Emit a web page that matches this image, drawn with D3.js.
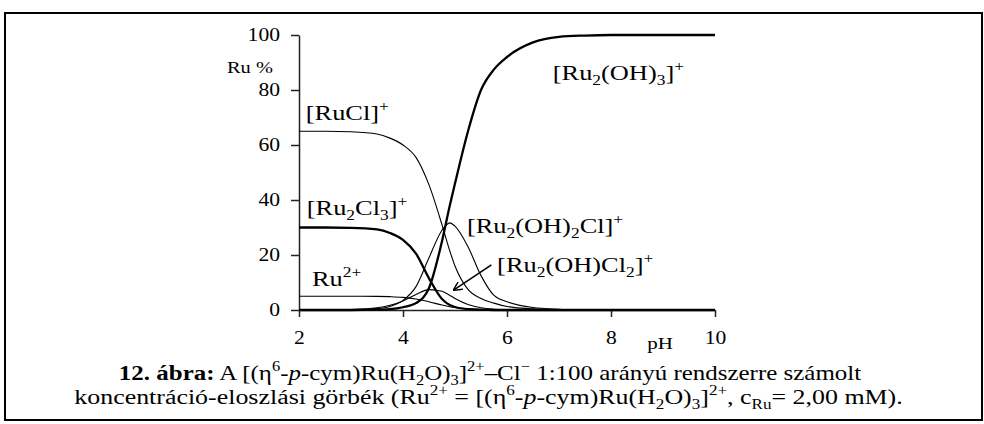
<!DOCTYPE html>
<html>
<head>
<meta charset="utf-8">
<script src="https://cdn.jsdelivr.net/npm/d3@7"></script>
<style>
  html, body { margin: 0; padding: 0; background: #fff; }
  svg text { font-family: "Liberation Serif", "Times New Roman", serif; fill: #000; }
</style>
</head>
<body>
<svg id="chart" width="984" height="424"></svg>
<script>
// pH grid of the speciation curves
const pH = [2, 2.5, 3, 3.5, 3.75, 4, 4.25, 4.5, 4.75, 4.9, 5, 5.25, 5.5, 5.75, 6, 6.5, 7, 7.5, 8, 9, 10];

// Ru % of each species at the pH points above
const ruCl     = [65, 65, 64.8, 64, 62.5, 60, 55.5, 45.5, 31, 21.5, 16, 7.5, 4.2, 2.5, 1.3, 0.4, 0.1, 0, 0, 0, 0];
const ru2Cl3   = [30, 30, 29.9, 29.3, 28, 25.5, 20.5, 11.5, 4, 1.8, 1.1, 0.3, 0.1, 0, 0, 0, 0, 0, 0, 0, 0];
const ru2plus  = [5, 5, 5, 4.95, 4.85, 4.6, 4, 3, 1.8, 1.2, 0.9, 0.4, 0.15, 0.05, 0, 0, 0, 0, 0, 0, 0];
const ru2OH3   = [0, 0, 0, 0.1, 0.3, 1.0, 2.5, 8, 25, 38, 46, 65, 80, 87.5, 92, 97.3, 99.3, 99.8, 100, 100, 100];
const ru2OH2Cl = [0, 0, 0.1, 0.5, 1.3, 3.5, 8.5, 19, 29, 31.7, 30.5, 23, 12.5, 5.3, 3, 0.9, 0.3, 0.1, 0, 0, 0];
const ru2OHCl2 = [0, 0.05, 0.2, 0.8, 1.7, 3.3, 5.6, 7.4, 6.8, 5.3, 4.2, 2, 0.8, 0.3, 0.1, 0, 0, 0, 0, 0, 0];

// axis ticks
const xTicks = [2, 4, 6, 8, 10];
const yTicks = [0, 20, 40, 60, 80, 100];

// species: values, label parts, label anchor (pH, %)
const series = [
  { values: ruCl,     thick: false, label: [["[RuCl]"], ["+", "sup"]],                                     at: [2.13, 69.1] },
  { values: ru2Cl3,   thick: true,  label: [["[Ru"], ["2", "sub"], ["Cl"], ["3", "sub"], ["]"], ["+", "sup"]], at: [2.15, 34.5] },
  { values: ru2plus,  thick: false, label: [["Ru"], ["2+", "sup"]],                                       at: [2.25, 8.7] },
  { values: ru2OH3,   thick: true,  label: [["[Ru"], ["2", "sub"], ["(OH)"], ["3", "sub"], ["]"], ["+", "sup"]], at: [6.88, 83.6] },
  { values: ru2OH2Cl, thick: false, label: [["[Ru"], ["2", "sub"], ["(OH)"], ["2", "sub"], ["Cl]"], ["+", "sup"]], at: [5.23, 28] },
  { values: ru2OHCl2, thick: false, label: [["[Ru"], ["2", "sub"], ["(OH)Cl"], ["2", "sub"], ["]"], ["+", "sup"]], at: [5.81, 13.8] }
];

// arrow pointing at [Ru2(OH)Cl2]+
const arrowFrom = [5.7, 16.4];
const arrowTo = [4.98, 7.3];

// figure caption lines
const caption1 = [["12. ábra:", "b"], [" A [(η"], ["6", "sup"], ["-"], ["p", "i"], ["-cym)Ru(H"], ["2", "sub"], ["O)"], ["3", "sub"],
  ["]"], ["2+", "sup"], ["–Cl"], ["−", "sup"], [" 1:100 arányú rendszerre számolt"]];
const caption2 = [["koncentráció-eloszlási görbék (Ru"], ["2+", "sup"], [" = [(η"], ["6", "sup"], ["-"], ["p", "i"], ["-cym)Ru(H"],
  ["2", "sub"], ["O)"], ["3", "sub"], ["]"], ["2+", "sup"], [", c"], ["Ru", "sub"], ["= 2,00 mM)."]];

const SX = 1.2; // horizontal text stretch

const svg = d3.select("#chart");

// outer frame
svg.append("rect")
  .attr("x", 5).attr("y", 13).attr("width", 977).attr("height", 407)
  .attr("fill", "none").attr("stroke", "#000").attr("stroke-width", 2);

const x = d3.scaleLinear().domain([2, 10]).range([299, 715]);
const y = d3.scaleLinear().domain([0, 100]).range([310, 35]);

function stretch(sel) {
  sel.each(function () {
    const t = d3.select(this);
    const tx = +t.attr("x") || 0, ty = +t.attr("y") || 0;
    t.attr("x", 0).attr("y", 0).attr("transform", `translate(${tx},${ty}) scale(${SX},1)`);
  });
}

function rich(parent, px, py, parts, size, anchor, sx) {
  const t = parent.append("text")
    .attr("transform", `translate(${px},${py}) scale(${sx || SX},1)`)
    .attr("font-size", size)
    .attr("text-anchor", anchor || "start");
  let shift = 0;
  parts.forEach(([s, kind]) => {
    const small = kind === "sup" || kind === "sub";
    const target = kind === "sup" ? -0.42 * size : kind === "sub" ? 0.22 * size : 0;
    const ts = t.append("tspan").text(s)
      .attr("dy", target - shift)
      .attr("font-size", small ? size * 0.66 : size);
    if (kind === "b") ts.attr("font-weight", "bold");
    if (kind === "i") ts.attr("font-style", "italic");
    shift = target;
  });
  return t;
}

// axes
const gx = svg.append("g").attr("transform", `translate(0,${y(0)})`)
  .call(d3.axisBottom(x).tickValues(xTicks).tickFormat(d3.format("d")).tickSize(7).tickPadding(14).tickSizeOuter(0));
const gy = svg.append("g").attr("transform", `translate(${x(2)},0)`)
  .call(d3.axisLeft(y).tickValues(yTicks).tickSize(8).tickPadding(11).tickSizeOuter(0));
[gx, gy].forEach(g => {
  g.attr("font-family", null);
  g.select(".domain").attr("stroke", "#222").attr("stroke-width", 1.5);
  g.selectAll(".tick line").attr("stroke", "#222").attr("stroke-width", 1.5);
  g.selectAll(".tick text").attr("font-size", 18).call(stretch);
});

// axis titles
rich(svg, 227, 73, [["Ru %"]], 17);
rich(svg, 660, 349, [["pH"]], 17.5, "middle");

// curves
const line = d3.line()
  .x((d, i) => x(pH[i]))
  .y(d => y(d))
  .curve(d3.curveMonotoneX);

svg.append("g").selectAll("path").data(series).join("path")
  .attr("d", d => line(d.values))
  .attr("fill", "none")
  .attr("stroke", "#000")
  .attr("stroke-width", d => d.thick ? 2.3 : 1.1)
  .attr("stroke-linejoin", "round");

// species labels
series.forEach(s => rich(svg, x(s.at[0]), y(s.at[1]), s.label, 22));

// arrow
svg.append("defs").append("marker")
  .attr("id", "head").attr("viewBox", "0 0 10 10")
  .attr("refX", 9).attr("refY", 5)
  .attr("markerWidth", 9).attr("markerHeight", 9)
  .attr("markerUnits", "userSpaceOnUse")
  .attr("orient", "auto")
  .append("path").attr("d", "M0,0 L10,5 L0,10").attr("fill", "none").attr("stroke", "#000").attr("stroke-width", 1.6);
svg.append("line")
  .attr("x1", x(arrowFrom[0])).attr("y1", y(arrowFrom[1]))
  .attr("x2", x(arrowTo[0])).attr("y2", y(arrowTo[1]))
  .attr("stroke", "#000").attr("stroke-width", 1.6)
  .attr("marker-end", "url(#head)");

// caption
rich(svg, 490, 380, caption1, 20.5, "middle", 1.218);
rich(svg, 488.5, 404, caption2, 20.5, "middle", 1.264);
</script>
</body>
</html>
